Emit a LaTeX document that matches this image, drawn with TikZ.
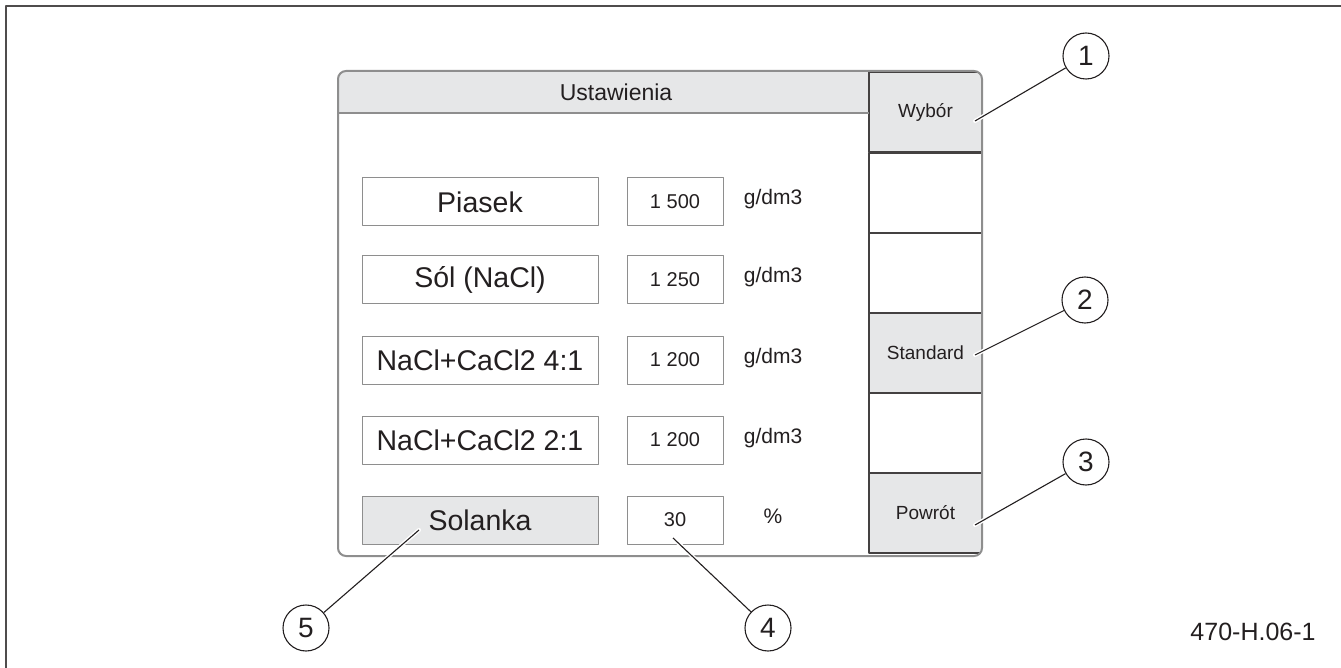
\documentclass[tikz,border=0pt]{standalone}
\usepackage{fontspec}
\setmainfont{Liberation Sans}
\definecolor{panelgray}{HTML}{E6E7E8}
\definecolor{framegray}{HTML}{8E8E8E}
\definecolor{inkgray}{HTML}{231F20}
\def\gdm{g/dm3}
\tikzset{
  labelbox/.style={draw=framegray,line width=1pt,minimum width=236pt,minimum height=48pt,inner sep=0pt,font=\fontsize{28.5}{30}\selectfont},
  valuebox/.style={draw=framegray,line width=1pt,minimum width=96pt,minimum height=48pt,inner sep=0pt,font=\fontsize{20}{22}\selectfont},
  unittext/.style={anchor=base,inner sep=0pt,font=\fontsize{21}{23}\selectfont},
  keycell/.style={draw=inkgray!85,line width=1.2pt,minimum width=113pt,minimum height=80pt,inner sep=0pt,font=\fontsize{19}{21}\selectfont},
  callout/.style={circle,draw=inkgray,line width=1.1pt,minimum size=46pt,inner sep=0pt,font=\fontsize{28}{30}\selectfont},
  halo/.style={white,line width=4pt,line cap=round,shorten <=3pt},
  leader/.style={inkgray,line width=1.1pt},
}
\begin{document}
\begin{tikzpicture}[x=1pt,y=-1pt,line join=round,text=inkgray]
	\useasboundingbox (0,0) rectangle (1341,668);
	\draw[inkgray!80,line width=2pt] (6,668)--(6,6)--(1341,6);
	% panel
	\fill[white] (338,71) rectangle (982,556);
	\begin{scope}
		\clip[rounded corners=8pt] (338,71) rectangle (982,556);
		\fill[panelgray] (338,71) rectangle (869,113);
		\foreach \i/\y/\txt/\col in {1/112/Wybór/panelgray,2/193//white,3/273//white,
			4/353/Standard/panelgray,5/433//white,6/513/Powrót/panelgray}
		\node[keycell,fill=\col] (k\i) at (925.5,\y) {\txt};
	\end{scope}
	\draw[framegray,line width=2pt,rounded corners=8pt] (338,71) rectangle (982,556);
	\draw[framegray,line width=1.2pt] (338,113)--(869,113);
	\node[font=\fontsize{23}{25}\selectfont] (title) at (616,92) {Ustawienia};
	% rows
	\foreach \i/\y/\name/\val/\unit/\col in {1/202/Piasek/1 500/\gdm/white,
		2/280/Sól (NaCl)/1 250/\gdm/white,3/360/NaCl+CaCl2 4:1/1 200/\gdm/white,
		4/440/NaCl+CaCl2 2:1/1 200/\gdm/white,5/520/Solanka/30/\%/panelgray}
	{
		\node[labelbox,fill=\col] (l\i) at (480,\y) {\name};
		\node[valuebox] (v\i) at (675,\y) {\val};
		\node[unittext] (u\i) at (773,\y+3) {\unit};
	}
	% callouts
	\path
	(975,121) coordinate (t1)
	(975,355) coordinate (t2)
	(975,525) coordinate (t3)
	(673,538) coordinate (t4)
	(419,530) coordinate (t5)
	;
	\foreach \n/\x/\y in {1/1086/56,2/1085/300,3/1086/462,4/768/628,5/306/628}
	\node[callout] (c\n) at (\x,\y) {\n};
	\foreach \n in {1,...,5}
	{
		\draw[halo] (c\n) -- (t\n);
		\draw[leader] (c\n) -- (t\n);
	}
	\node[font=\fontsize{25}{27}\selectfont] (code) at (1253,632) {470-H.06-1};
\end{tikzpicture}
\end{document}
